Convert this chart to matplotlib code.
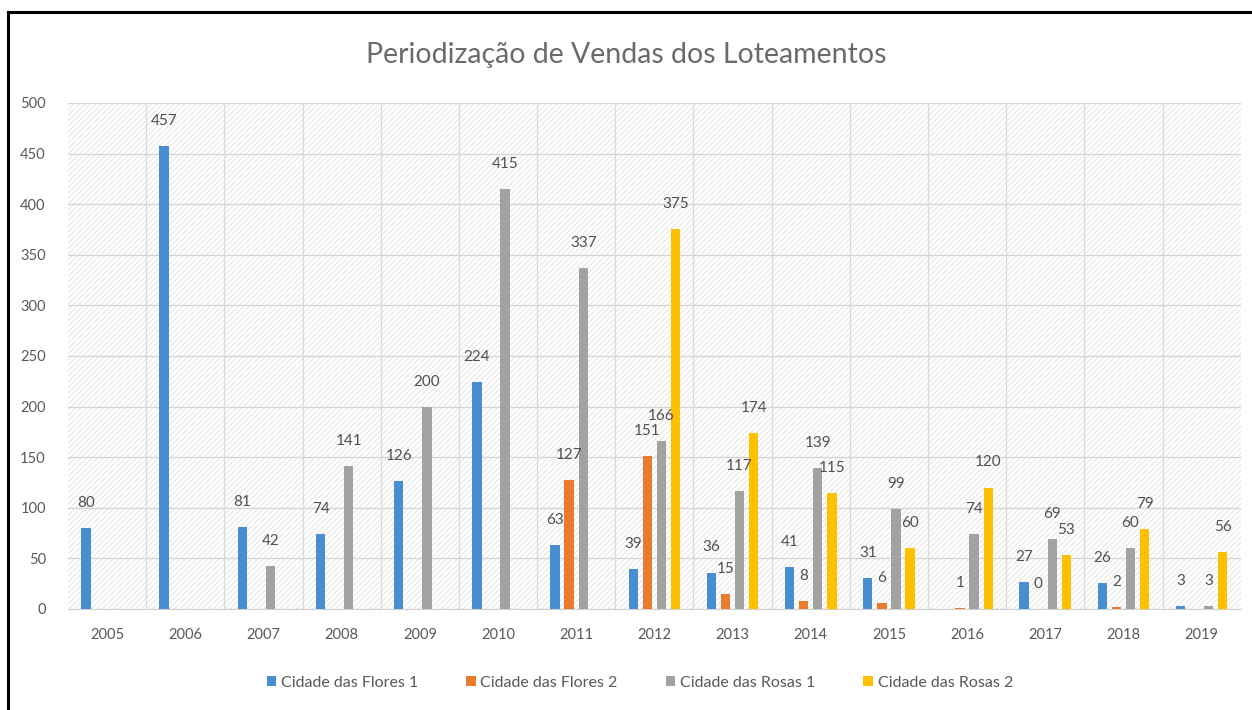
import numpy as np
import matplotlib
matplotlib.use("Agg")
from matplotlib import pyplot as plt

years = ['2005', '2006', '2007', '2008', '2009', '2010', '2011', '2012',
         '2013', '2014', '2015', '2016', '2017', '2018', '2019']
nan = np.nan
flores_1 = [80, 457, 81, 74, 126, 224, 63, 39, 36, 41, 31, nan, 27, 26, 3]
flores_2 = [nan, nan, nan, nan, nan, nan, 127, 151, 15, 8, 6, 1, 0, 2, nan]
rosas_1 = [nan, nan, 42, 141, 200, 415, 337, 166, 117, 139, 99, 74, 69, 60, 3]
rosas_2 = [nan, nan, nan, nan, nan, nan, nan, 375, 174, 115, 60, 120, 53, 79, 56]
series_names = ['Cidade das Flores 1', 'Cidade das Flores 2',
                'Cidade das Rosas 1', 'Cidade das Rosas 2']
colors = ['#4a8ed2', '#ea7a2c', '#a2a2a2', '#ffc000']

plt.rcParams['font.family'] = ['Lato', 'DejaVu Sans']
plt.rcParams['hatch.color'] = '#e0e0e0'
plt.rcParams['hatch.linewidth'] = 0.6

fig = plt.figure(figsize=(12.52, 7.10), dpi=100)
ax = fig.add_axes([0.0543, 0.1423, 0.9367, 0.7127])

# moldura (só em cima e à esquerda, como na imagem)
fig.add_artist(plt.Line2D([0.0064, 0.0064], [0.0, 0.983], color='black', lw=2.2,
                          transform=fig.transFigure))
fig.add_artist(plt.Line2D([0.0064, 1.0], [0.983, 0.983], color='black', lw=2.2,
                          transform=fig.transFigure))

x = np.arange(len(years))
offsets = [-0.27, -0.09, 0.09, 0.27]
all_series = [flores_1, flores_2, rosas_1, rosas_2]

ax.patch.set_facecolor('white')
ax.patch.set_hatch('//////')
ax.patch.set_edgecolor('#e0e0e0')

for vals, off, col, name in zip(all_series, offsets, colors, series_names):
    vals = np.array(vals, dtype=float)
    bars = ax.bar(x + off, vals, width=0.12, color=col, label=name, zorder=3)
    for xi, v in zip(x + off, vals):
        if np.isnan(v):
            continue
        ax.annotate(f'{int(v)}', (xi, v), xytext=(0, 13), textcoords='offset points',
                    ha='center', va='bottom', fontsize=11, color='#505050', zorder=4)

ax.set_xlim(-0.5, len(years) - 0.5)
ax.set_ylim(0, 500)
ax.set_yticks(np.arange(0, 501, 50))
ax.set_xticks(x)
ax.set_xticklabels(years)

# grade horizontal e divisões verticais entre categorias
ax.set_axisbelow(True)
ax.yaxis.grid(True, color='#d4d4d4', lw=0.9, zorder=1)
for b in np.arange(0.5, len(years) - 0.5, 1):
    ax.axvline(b, color='#dadada', lw=0.9, zorder=1)

for s in ['top', 'right', 'left']:
    ax.spines[s].set_visible(False)
ax.spines['bottom'].set_color('#d0d0d0')
ax.tick_params(axis='both', length=0, labelsize=10.5, colors='#595959')
ax.tick_params(axis='x', pad=14)
ax.tick_params(axis='y', pad=16)

fig.text(0.5, 0.922, 'Periodização de Vendas dos Loteamentos', ha='center', va='center',
         fontsize=20.5, color='#6a6a6a')

leg = fig.legend(loc='center', bbox_to_anchor=(0.511, 0.038), ncol=4, frameon=False,
                 fontsize=11.5, handlelength=0.6, handleheight=0.6, handletextpad=0.3,
                 columnspacing=3.0)
for t in leg.get_texts():
    t.set_color('#595959')

fig.savefig('out.png', dpi=100)
